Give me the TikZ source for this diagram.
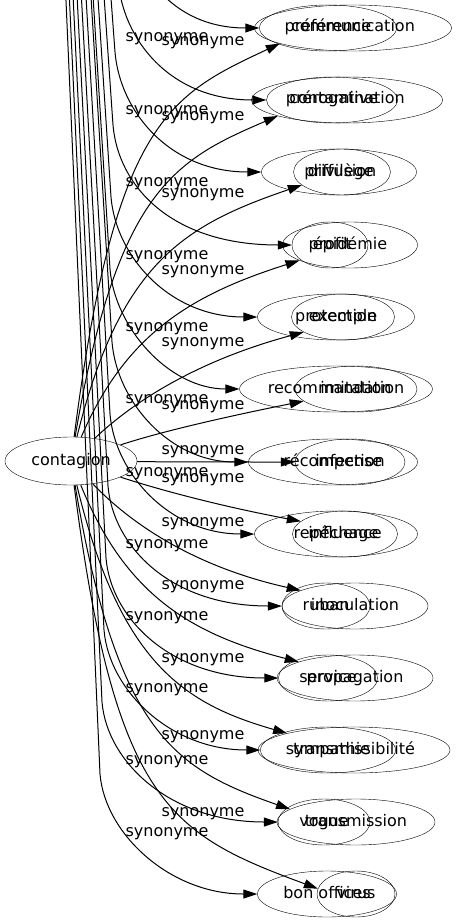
\documentclass[tikz,border=0pt]{standalone}
\usepackage{fontspec}
\setmainfont{DejaVu Sans}
\usetikzlibrary{arrows.meta,shapes}
\tikzstyle{word} = [draw, ellipse, inner sep=0pt, minimum height=46pt, text height=12pt, text depth=4pt, font=\fontsize{16}{19}\selectfont]
\tikzstyle{lbl}  = [inner sep=0pt, text height=12pt, text depth=4pt, font=\fontsize{16}{19}\selectfont]
\tikzstyle{syn}  = [line width=1pt, -{Triangle[length=14pt,width=9pt]}]

\begin{document}
\begin{tikzpicture}[x=1pt,y=-1pt]
        \useasboundingbox (0,0) rectangle (456,923);
        \clip (0,0) rectangle (456,923);
        \node[word, minimum width=132pt, minimum height=48pt] (contagion) at (71,461) {contagion};
        % centre of the second graph, above the picture
        \coordinate (hub) at (0,-1500);
        \foreach \y/\ga/\xa/\wa/\gb/\xb/\wb [count=\i] in {
                28/communication/353/197/préférence/328/137,
                100/contamination/347/191/prérogative/332/131,
                172/diffusion/342/95/privilège/339/155,
                245/épidémie/350/135/profit/330/76,
                317/exemple/343/103/protection/336/157,
                389/imitation/356/122/recommandation/336/182,
                462/infection/350/110/récompense/333/169,
                534/influence/345/105/repêchage/336/163,
                606/inoculation/355/146/ruban/326/88,
                678/propagation/355/156/service/328/99,
                750/transmissibilité/354/192/sympathie/328/135,
                822/transmission/356/158/vogue/324/92,
                894/virus/356/78/bon offices/327/139}
        {
            \node[word, minimum width=\wa pt] (a\i) at (\xa,\y) {\ga};
            \node[word, minimum width=\wb pt] (b\i) at (\xb,\y) {\gb};
        }
        % edges of contagion
        \foreach \i/\ang/\px/\py/\qx/\qy in {
                1/192/115/120/170/95, 2/193/117/190/175/160,
                3/198/120/262/185/225, 4/197/125/335/190/295,
                5/201/135/400/200/360, 6/193/160/432/220/418,
                7/180/180/462/240/462, 8/164/160/490/220/506,
                9/164/135/528/200/568, 10/164/125/594/190/634,
                11/166/120/664/185/704, 12/169/117/734/175/769,
                13/172/115/804/170/834}
            \draw[syn] (contagion) .. controls (\px,\py) and (\qx,\qy) .. (a\i.\ang);
        % edges of the second graph
        \foreach \i/\y/\bx in {1/28/125, 2/100/118, 3/172/115, 4/245/113,
                5/317/111, 6/389/110, 7/462/112, 8/534/110, 9/606/108,
                10/678/106, 11/750/104, 12/822/102, 13/894/100}
            \draw[syn] (hub) -- (\bx,\y-120) .. controls (\bx+5,\y-60) and (170,\y) .. (b\i.west);
        % edge labels
        \foreach \y [count=\i] in {28,100,172,245,317,389,462,534,606,678,750,822}
            \node[lbl] (sl\i) at (167,\y+10) {synonyme};
        \foreach \y [count=\i] in {42,117,193,270,342,405,450,478,522,585,658,735,812}
            \node[lbl] (sr\i) at (203,\y) {synonyme};
\end{tikzpicture}
\end{document}
